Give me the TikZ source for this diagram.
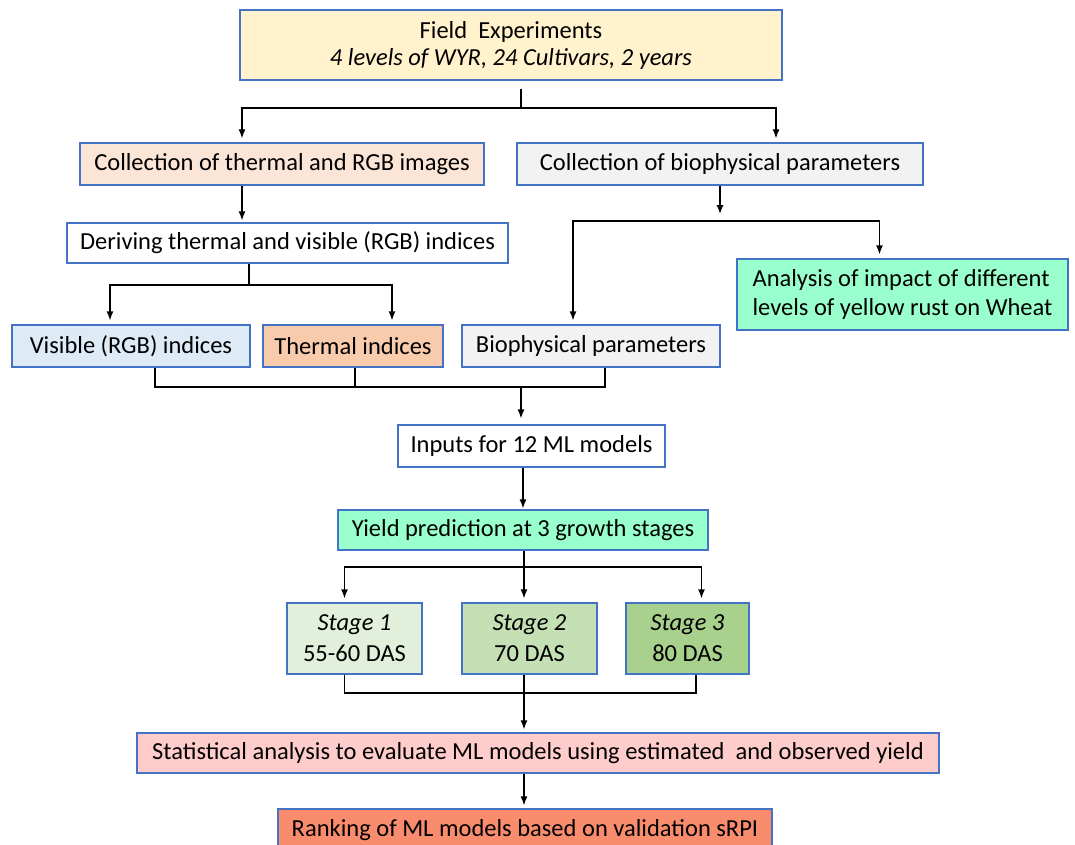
\documentclass[tikz,border=0pt]{standalone}
\usepackage{fontspec}
\setmainfont{Carlito}
\usetikzlibrary{positioning}
\usetikzlibrary{arrows.meta}
\definecolor{bordbleu}{HTML}{4472C4}
\definecolor{champ}{HTML}{FFF2CC}
\definecolor{peche}{HTML}{FBE5D6}
\definecolor{grisclair}{HTML}{F2F2F2}
\definecolor{menthe}{HTML}{99FFCC}
\definecolor{bleuclair}{HTML}{DEEBF7}
\definecolor{orangeclair}{HTML}{F8CBAD}
\definecolor{vertA}{HTML}{E2EFDA}
\definecolor{vertB}{HTML}{C5E0B4}
\definecolor{vertC}{HTML}{A9D18E}
\definecolor{roseclair}{HTML}{FFCCCC}
\definecolor{saumon}{HTML}{FA8C6E}
\tikzstyle{procbox}=[
  draw=bordbleu,
  line width=1.3pt,
  inner sep=0pt,
  minimum height=42pt,
  align=center,
  font=\fontsize{24.5}{27}\selectfont
]
\tikzstyle{procboxtwo}=[
  procbox,
  minimum height=71pt
]
\tikzstyle{fleche}=[
  >={Latex[length=9pt,width=7pt]},
  ->,
  line width=1.3pt,
  shorten >=4pt
]
\tikzstyle{trait}=[line width=1.3pt]

\begin{document}
\begin{tikzpicture}[x=1pt,y=-1pt]
  \useasboundingbox[fill=white] (0,0) rectangle (1075,845);
  \node[procboxtwo,fill=champ,minimum width=542pt,minimum height=70pt] (field) at (511,45) {Field\ \ Experiments\\\textit{4 levels of WYR, 24 Cultivars, 2 years}};
  \node[procbox,fill=peche,minimum width=404pt] (thermcoll) at (282,164) {Collection of thermal and RGB images};
  \node[procbox,fill=grisclair,minimum width=406pt] (biocoll) at (720,164) {Collection of biophysical parameters};
  \node[procbox,fill=white,minimum width=441pt,minimum height=40pt] (deriving) at (287.5,243) {Deriving thermal and visible (RGB) indices};
  \node[procboxtwo,fill=menthe,minimum width=331pt,align=left,font=\fontsize{24.5}{29}\selectfont] (analysis) at (902.5,294.5) {Analysis of impact of different\\levels of yellow rust on Wheat};
  \node[procbox,fill=bleuclair,minimum width=238pt] (visible) at (131,346) {Visible (RGB) indices};
  \node[procbox,fill=orangeclair,minimum width=180pt] (thermal) at (353,346) {Thermal indices};
  \node[procbox,fill=grisclair,minimum width=258pt] (bioparam) at (591,346) {Biophysical parameters};
  \node[procbox,fill=white,minimum width=267pt] (inputs) at (531.5,446) {Inputs for 12 ML models};
  \node[procbox,fill=menthe,minimum width=370pt,minimum height=40pt] (yield) at (523,530) {Yield prediction at 3 growth stages};
  \node[procboxtwo,fill=vertA,minimum width=135pt,font=\fontsize{24.5}{31}\selectfont] (stage1) at (354.5,638.5) {\textit{Stage 1}\\55-60 DAS};
  \node[procboxtwo,fill=vertB,minimum width=135pt,font=\fontsize{24.5}{31}\selectfont] (stage2) at (529.5,638.5) {\textit{Stage 2}\\70 DAS};
  \node[procboxtwo,fill=vertC,minimum width=123pt,font=\fontsize{24.5}{31}\selectfont] (stage3) at (687.5,638.5) {\textit{Stage 3}\\80 DAS};
  \node[procbox,fill=roseclair,minimum width=802pt,minimum height=40pt] (statistical) at (538,753) {Statistical analysis to evaluate ML models using estimated\ \ and observed yield};
  \node[procbox,fill=saumon,minimum width=494pt] (ranking) at (525,830) {Ranking of ML models based on validation sRPI};
  % junctions
  \coordinate (j1) at (521,108);
  \coordinate (j2) at (720,221);
  \coordinate (j3) at (249,285);
  \coordinate (j4) at (521,387);
  \coordinate (j5) at (524,567);
  \coordinate (j6) at (524,693);
  % field -> collections
  \draw[trait] ([yshift=-8pt]field.south -| j1) -- (j1);
  \draw[fleche] (j1) -| ([xshift=-40pt]thermcoll.north);
  \draw[fleche] (j1) -| ([xshift=56pt]biocoll.north);
  \draw[fleche,shorten >=2pt] ([xshift=-40pt]thermcoll.south) -- ([xshift=-45.5pt]deriving.north);
  % biophysical branch
  \draw[fleche,shorten >=7pt] (biocoll.south) -- (j2);
  \draw[fleche] (j2) -| ([xshift=-18pt]bioparam.north);
  \draw[fleche] (j2) -| ([xshift=-23pt]analysis.north);
  % indices
  \draw[trait] (deriving.south -| j3) -- (j3);
  \draw[fleche] (j3) -| ([xshift=-21pt]visible.north);
  \draw[fleche] (j3) -| ([xshift=39pt]thermal.north);
  \draw[trait] ([xshift=24pt]visible.south) |- ([xshift=14pt]bioparam.south |- j4) -- ([xshift=14pt]bioparam.south);
  \draw[trait] ([xshift=2pt]thermal.south) -- ([xshift=2pt]thermal.south |- j4);
  \draw[fleche,shorten >=6pt] (j4) -- (inputs.north -| j4);
  \draw[fleche,shorten >=1pt] (inputs.south -| yield.north) -- (yield.north);
  % stages
  \draw[trait] (yield.south -| j5) -- (j5);
  \draw[fleche] (j5) -| ([xshift=-10pt]stage1.north);
  \draw[fleche] (j5) -- (j5 |- stage2.north);
  \draw[fleche] (j5) -| ([xshift=14pt]stage3.north);
  \draw[trait] ([xshift=-10pt]stage1.south) |- ([xshift=8.5pt]stage3.south |- j6) -- ([xshift=8.5pt]stage3.south);
  \draw[trait] (stage2.south -| j6) -- (j6);
  \draw[fleche,shorten >=3pt] (j6) -- (j6 |- statistical.north);
  \draw[fleche,shorten >=3pt] (statistical.south -| j6) -- (ranking.north -| j6);
\end{tikzpicture}
\end{document}
